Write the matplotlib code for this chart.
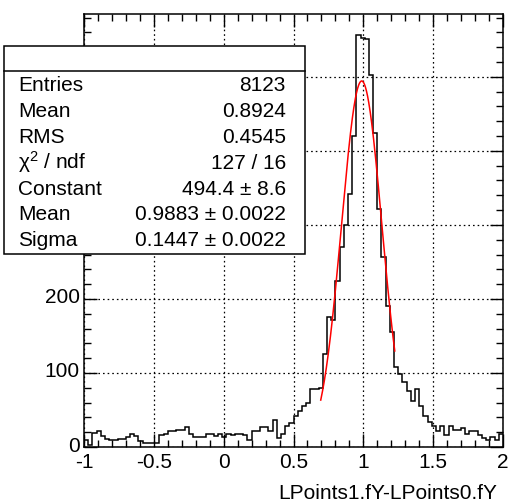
"""
LPoints1.fY - LPoints0.fY 差分分佈,含高斯擬合與統計框。
"""

import numpy as np
import matplotlib
matplotlib.use("Agg")
import matplotlib.pyplot as plt
import matplotlib.transforms as mtransforms
from matplotlib.patches import Rectangle
from matplotlib.lines import Line2D
from matplotlib.ticker import MultipleLocator, FuncFormatter

plt.rcParams["font.family"] = ["Liberation Sans", "DejaVu Sans"]
plt.rcParams["axes.unicode_minus"] = False
plt.rcParams["mathtext.fontset"] = "custom"
plt.rcParams["mathtext.rm"] = "Liberation Sans"
plt.rcParams["mathtext.it"] = "Liberation Sans:italic"

W, H = 514, 503
FS = 15

# histogram: 100 bins on [-1, 2]
x_lo, x_hi = -1.0, 2.0
counts = [
    10, 3, 19, 21, 15, 11, 10, 10, 11, 11,
    14, 18, 15, 8, 6, 6, 5, 6, 16, 18,
    21, 21, 23, 23, 27, 18, 13, 13, 13, 17,
    17, 15, 17, 14, 17, 16, 18, 17, 16, 9,
    21, 21, 27, 27, 22, 37, 12, 18, 28, 33,
    42, 48, 55, 59, 78, 78, 80, 126, 176, 172,
    224, 270, 300, 342, 420, 557, 553, 551, 502, 424,
    322, 256, 190, 155, 108, 98, 88, 75, 62, 78,
    55, 42, 34, 28, 21, 28, 16, 29, 23, 23,
    26, 18, 22, 22, 16, 12, 10, 14, 10, 18,
]

# gaus fit result
fit_const, fit_mean, fit_sigma = 494.4, 0.9883, 0.1447
fit_lo, fit_hi = 0.695, 1.225

stat_names = ["Entries", "Mean", "RMS", r"$\mathregular{\chi^2}$ / ndf",
              "Constant", "Mean", "Sigma"]
stat_values = ["8123", "0.8924", "0.4545", "127 / 16",
               "494.4 ± 8.6", "0.9883 ± 0.0022", "0.1447 ± 0.0022"]
x_title = "LPoints1.fY-LPoints0.fY"


def fx(px):
    return px / W


def fy(py):
    return 1 - py / H


fig = plt.figure(figsize=(W / 100, H / 100), dpi=100)
ax = fig.add_axes([fx(84), fy(447), 419 / W, 433 / H])

edges = np.linspace(x_lo, x_hi, len(counts) + 1)
ax.stairs(counts, edges, color="black", lw=1.1, baseline=None, zorder=3)

xf = np.linspace(fit_lo, fit_hi, 200)
yf = fit_const * np.exp(-0.5 * ((xf - fit_mean) / fit_sigma) ** 2)
ax.plot(xf, yf, color="#ff0000", lw=1.1, zorder=4)

ax.set_xlim(x_lo, x_hi)
ax.set_ylim(0, 1.05 * max(counts))

ax.xaxis.set_major_locator(MultipleLocator(0.5))
ax.xaxis.set_minor_locator(MultipleLocator(0.1))
ax.yaxis.set_major_locator(MultipleLocator(100))
ax.yaxis.set_minor_locator(MultipleLocator(20))
ax.xaxis.set_major_formatter(FuncFormatter(lambda v, p: f"{v:g}"))
# labels above 200 sit behind the stats box
ax.yaxis.set_major_formatter(FuncFormatter(lambda v, p: f"{v:g}" if v < 250 else ""))

ax.tick_params(which="both", direction="in", top=True, right=True,
               width=1.0, labelsize=FS, colors="black")
ax.tick_params(which="major", length=9.5)
ax.tick_params(which="minor", length=5)
ax.tick_params(axis="x", pad=4)
ax.tick_params(axis="y", pad=3)

# y labels sit a little above their ticks
lift = mtransforms.ScaledTranslation(0, 3 / 100, fig.dpi_scale_trans)
for lbl in ax.get_yticklabels():
    lbl.set_transform(lbl.get_transform() + lift)

ax.grid(True, which="major", color="black", lw=0.9, ls=(0, (1.3, 2.4)))
for s in ax.spines.values():
    s.set_linewidth(1.1)

# stats box
box_l, box_r, box_t, box_b, box_sep = 4, 305, 46, 254, 71
fig.add_artist(Rectangle((fx(box_l), fy(box_b)), (box_r - box_l) / W,
                         (box_b - box_t) / H, transform=fig.transFigure,
                         facecolor="white", edgecolor="black", lw=1.1, zorder=5))
fig.add_artist(Line2D([fx(box_l), fx(box_r)], [fy(box_sep), fy(box_sep)],
                      transform=fig.transFigure, color="black", lw=1.1, zorder=6))

for i, (name, val) in enumerate(zip(stat_names, stat_values)):
    yb = 91 + 25.9 * i
    fig.text(fx(18), fy(yb), name, ha="left", va="baseline", fontsize=FS, zorder=7)
    fig.text(fx(286), fy(yb), val, ha="right", va="baseline", fontsize=FS, zorder=7)

fig.text(fx(497), fy(499), x_title, ha="right", va="baseline", fontsize=FS)

fig.savefig("out.png", dpi=100)
